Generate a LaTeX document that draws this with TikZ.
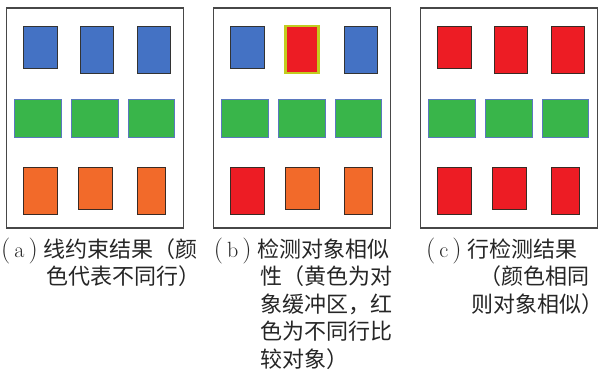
\documentclass[tikz,border=0pt]{standalone}
\usepackage{fontspec}
\newfontfamily\cjk{Noto Sans CJK SC}
\definecolor{fblue}{HTML}{4472C4}
\definecolor{fgreen}{HTML}{39B54A}
\definecolor{forange}{HTML}{F26A2A}
\definecolor{fred}{HTML}{ED1C24}
\definecolor{fyellow}{HTML}{C2CC1E}
\definecolor{gedge}{HTML}{5B78BE}
\definecolor{dedge}{HTML}{3A2A24}
\newcommand\lbl[1]{{\fontsize{26}{26}\selectfont(}\kern4pt #1\kern4pt{\fontsize{26}{26}\selectfont)}\kern6pt}
\begin{document}
\begin{tikzpicture}[x=1pt,y=-1pt,
  frame/.style={draw=black!72,line width=1.1pt},
  bluebox/.style={fill=fblue,draw=black!80,line width=0.9pt},
  greenbox/.style={fill=fgreen,draw=gedge,line width=0.8pt},
  orangebox/.style={fill=forange,draw=dedge,line width=0.9pt},
  redbox/.style={fill=fred,draw=dedge,line width=0.9pt},
  selbox/.style={fill=fred,draw=fyellow,line width=2.4pt},
  captext/.style={anchor=base west,inner sep=0pt,text=black!85,font=\fontsize{22}{26}\selectfont}]
\useasboundingbox (0,0) rectangle (602,376);
\fill[white] (0,0) rectangle (602,376);
% panel a
\begin{scope}[shift={(6.5,0)}]
  \draw[frame] (0,8) rectangle (177,228);
  \draw[bluebox] (17,26) rectangle (51,68);
  \draw[bluebox] (74,26) rectangle (107,73);
  \draw[bluebox] (131,26) rectangle (164,73);
  \draw[greenbox] (8,99) rectangle (55,137);
  \draw[greenbox] (65,99) rectangle (112,137);
  \draw[greenbox] (122,99) rectangle (168,137);
  \draw[orangebox] (17,167) rectangle (51,214);
  \draw[orangebox] (72,167) rectangle (106,209);
  \draw[orangebox] (131,167) rectangle (159,214);
\end{scope}
% panel b
\begin{scope}[shift={(213.3,0)}]
  \draw[frame] (0,8) rectangle (177,228);
  \draw[bluebox] (17,26) rectangle (51,68);
  \draw[selbox] (72,26) rectangle (105,73);
  \draw[bluebox] (131,26) rectangle (164,73);
  \draw[greenbox] (8,99) rectangle (55,137);
  \draw[greenbox] (65,99) rectangle (112,137);
  \draw[greenbox] (122,99) rectangle (168,137);
  \draw[redbox] (17,167) rectangle (51,214);
  \draw[orangebox] (72,167) rectangle (106,209);
  \draw[orangebox] (131,167) rectangle (159,214);
\end{scope}
% panel c
\begin{scope}[shift={(420.3,0)}]
  \draw[frame] (0,8) rectangle (177,228);
  \draw[redbox] (17,26) rectangle (51,68);
  \draw[redbox] (74,26) rectangle (107,73);
  \draw[redbox] (131,26) rectangle (164,73);
  \draw[greenbox] (8,99) rectangle (55,137);
  \draw[greenbox] (65,99) rectangle (112,137);
  \draw[greenbox] (122,99) rectangle (168,137);
  \draw[redbox] (17,167) rectangle (51,214);
  \draw[redbox] (72,167) rectangle (106,209);
  \draw[redbox] (131,167) rectangle (159,214);
\end{scope}
% captions
\node[captext] (a1) at (1,257) {\lbl{a}{\cjk 线约束结果（颜}};
\node[captext] (a2) at (46,284.5) {\cjk 色代表不同行）};
\node[captext] (b1) at (213.7,257) {\lbl{b}{\cjk 检测对象相似}};
\node[captext] (b2) at (260,284.5) {\cjk 性（黄色为对};
\node[captext] (b3) at (260,312) {\cjk 象缓冲区，红};
\node[captext] (b4) at (260,339.5) {\cjk 色为不同行比};
\node[captext] (b5) at (260,367) {\cjk 较对象）};
\node[captext] (c1) at (426,257) {\lbl{c}{\cjk 行检测结果}};
\node[captext] (c2) at (479,284.5) {\cjk （颜色相同};
\node[captext] (c3) at (471,312) {\cjk 则对象相似）};
\end{tikzpicture}
\end{document}
